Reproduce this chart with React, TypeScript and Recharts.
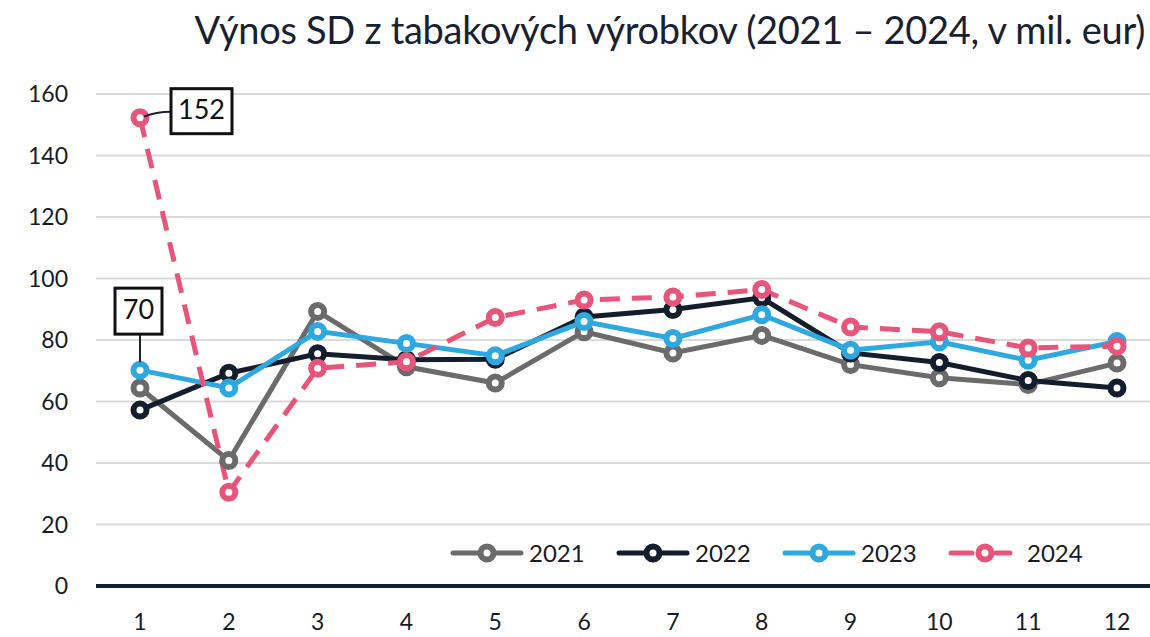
import React from 'react';
import { LineChart, Line, XAxis, YAxis, CartesianGrid, LabelList } from 'recharts';

const months = ['1', '2', '3', '4', '5', '6', '7', '8', '9', '10', '11', '12'];
const y2021 = [64.4, 40.8, 89.3, 71.3, 66.0, 82.7, 75.8, 81.5, 72.0, 67.7, 65.5, 72.5];
const y2022 = [57.2, 69.2, 75.5, 73.6, 73.7, 87.5, 89.9, 93.7, 75.8, 72.7, 66.8, 64.4];
const y2023 = [70.2, 64.4, 82.8, 78.9, 74.9, 86.0, 80.5, 88.2, 76.7, 79.4, 73.4, 79.5];
const y2024 = [152.3, 30.5, 70.8, 72.9, 87.3, 93.0, 94.0, 96.4, 84.2, 82.7, 77.4, 78.0];
const yTicks = [0, 20, 40, 60, 80, 100, 120, 140, 160];
const seriesNames = ['2021', '2022', '2023', '2024'];
const title = 'Výnos SD z tabakových výrobkov (2021 – 2024, v mil. eur)';

const colors: Record<string, string> = {
  '2021': '#6b6b6b',
  '2022': '#141d2e',
  '2023': '#2ea8e0',
  '2024': '#e8557b',
};

const data = months.map((m, i) => ({
  month: m,
  '2021': y2021[i],
  '2022': y2022[i],
  '2023': y2023[i],
  '2024': y2024[i],
}));

const FONT = 'Lato, "Open Sans", sans-serif';
const TEXT = '#161c27';

const RightBoxLabel = (props: any) => {
  const { x, y, value, index } = props;
  if (index !== 0) return null;
  const bx = x + 31;
  const by = y - 29;
  const w = 61;
  const h = 45;
  return (
    <g>
      <path d={`M ${x + 4} ${y - 1} Q ${x + 16} ${y - 6} ${bx} ${y - 6}`} stroke="#1a2233" strokeWidth={2} fill="none" />
      <rect x={bx} y={by} width={w} height={h} fill="#fff" stroke="#111" strokeWidth={3} />
      <text x={bx + w / 2} y={by + h / 2 + 1} textAnchor="middle" dominantBaseline="middle" fontSize={27} fontFamily={FONT} fill="#111">
        {Math.round(value)}
      </text>
    </g>
  );
};

const TopBoxLabel = (props: any) => {
  const { x, y, value, index } = props;
  if (index !== 0) return null;
  const w = 47;
  const h = 46;
  const bx = x - 25;
  const by = y - 82;
  return (
    <g>
      <line x1={x} y1={by + h} x2={x} y2={y - 8} stroke="#1a2233" strokeWidth={2} />
      <rect x={bx} y={by} width={w} height={h} fill="#fff" stroke="#111" strokeWidth={3} />
      <text x={bx + w / 2} y={by + h / 2 + 1} textAnchor="middle" dominantBaseline="middle" fontSize={27} fontFamily={FONT} fill="#111">
        {Math.round(value)}
      </text>
    </g>
  );
};

const LegendBox = () => (
  <div style={{ position: 'absolute', left: 450, top: 541, display: 'flex', fontFamily: FONT }}>
    {seriesNames.map((n) => {
      const c = colors[n];
      const dashed = n === '2024';
      return (
        <div key={n} style={{ display: 'flex', alignItems: 'center', width: 166 }}>
          <svg width={76} height={24} style={{ display: 'block' }}>
            {dashed ? (
              <>
                <line x1={3} y1={12} x2={24} y2={12} stroke={c} strokeWidth={5} strokeLinecap="round" />
                <line x1={48} y1={12} x2={62} y2={12} stroke={c} strokeWidth={5} strokeLinecap="round" />
                <circle cx={37} cy={12} r={6.5} fill="#fff" stroke={c} strokeWidth={6} />
              </>
            ) : (
              <>
                <line x1={3} y1={12} x2={71} y2={12} stroke={c} strokeWidth={5} strokeLinecap="round" />
                <circle cx={37} cy={12} r={6.5} fill="#fff" stroke={c} strokeWidth={6} />
              </>
            )}
          </svg>
          <span style={{ fontSize: 24, color: TEXT, marginLeft: 3, lineHeight: '24px' }}>{n}</span>
        </div>
      );
    })}
  </div>
);

export default function App() {
  return (
    <div style={{ position: 'absolute', left: 0, top: 0, width: 1150, height: 637, background: '#fff', overflow: 'hidden' }}>
      <LineChart width={1150} height={637} data={data} margin={{ top: 94, right: 0, bottom: 21, left: 0 }}>
        <CartesianGrid vertical={false} stroke="#d9d9d9" strokeWidth={2} />
        <XAxis
          dataKey="month"
          height={30}
          padding={{ left: 44, right: 33 }}
          tickLine={false}
          axisLine={{ stroke: '#172033', strokeWidth: 4 }}
          tickSize={0}
          tickMargin={28}
          tick={{ fill: TEXT, fontSize: 23, fontFamily: FONT }}
          interval={0}
        />
        <YAxis
          width={96}
          domain={[0, 160]}
          ticks={yTicks}
          tickLine={false}
          axisLine={false}
          tickSize={0}
          tickMargin={28}
          tick={{ fill: TEXT, fontSize: 23, fontFamily: FONT }}
        />
        <Line
          dataKey="2021"
          stroke={colors['2021']}
          strokeWidth={5}
          dot={{ r: 6.5, fill: '#fff', stroke: colors['2021'], strokeWidth: 6 }}
          isAnimationActive={false}
        />
        <Line
          dataKey="2022"
          stroke={colors['2022']}
          strokeWidth={5}
          dot={{ r: 6.5, fill: '#fff', stroke: colors['2022'], strokeWidth: 6 }}
          isAnimationActive={false}
        />
        <Line
          dataKey="2023"
          stroke={colors['2023']}
          strokeWidth={5}
          dot={{ r: 6.5, fill: '#fff', stroke: colors['2023'], strokeWidth: 6 }}
          isAnimationActive={false}
        >
          <LabelList dataKey="2023" content={TopBoxLabel} />
        </Line>
        <Line
          dataKey="2024"
          stroke={colors['2024']}
          strokeWidth={5}
          strokeDasharray="20 12"
          dot={{ r: 6.5, fill: '#fff', stroke: colors['2024'], strokeWidth: 6, strokeDasharray: 'none' }}
          isAnimationActive={false}
        >
          <LabelList dataKey="2024" content={RightBoxLabel} />
        </Line>
      </LineChart>
      <LegendBox />
      <div
        style={{
          position: 'absolute',
          right: 5,
          top: 3,
          fontFamily: FONT,
          fontSize: 38,
          color: '#182131',
          whiteSpace: 'nowrap',
          lineHeight: '52px',
          letterSpacing: -0.3,
        }}
      >
        {title}
      </div>
    </div>
  );
}
